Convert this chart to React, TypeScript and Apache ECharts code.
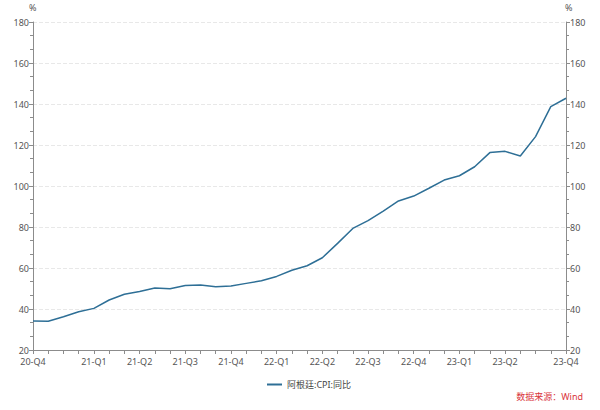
import React, { useEffect, useRef } from "react";
import * as echarts from "echarts";

const months: string[] = [
  "2020-11", "2020-12", "2021-01", "2021-02", "2021-03", "2021-04", "2021-05", "2021-06",
  "2021-07", "2021-08", "2021-09", "2021-10", "2021-11", "2021-12", "2022-01", "2022-02",
  "2022-03", "2022-04", "2022-05", "2022-06", "2022-07", "2022-08", "2022-09", "2022-10",
  "2022-11", "2022-12", "2023-01", "2023-02", "2023-03", "2023-04", "2023-05", "2023-06",
  "2023-07", "2023-08", "2023-09", "2023-10",
];

const xTickLabels: string[] = [
  "20-Q4", "", "", "", "21-Q1", "", "", "21-Q2", "", "", "21-Q3", "", "", "21-Q4", "", "",
  "22-Q1", "", "", "22-Q2", "", "", "22-Q3", "", "", "22-Q4", "", "", "23-Q1", "", "",
  "23-Q2", "", "", "", "23-Q4",
];

const cpiYoY: number[] = [
  34.1, 34.0, 36.2, 38.7, 40.3, 44.4, 47.2, 48.5, 50.2, 49.9, 51.5, 51.7,
  50.9, 51.2, 52.5, 53.8, 55.9, 58.9, 61.1, 65.0, 72.0, 79.3, 83.1, 87.8,
  92.7, 95.1, 98.9, 102.9, 105.0, 109.4, 116.3, 116.9, 114.6, 124.1, 138.7, 142.8,
];

const seriesName = "阿根廷:CPI:同比";
const sourceText = "数据来源：Wind";

const FONT = "'Noto Sans', 'Noto Sans CJK SC', sans-serif";

export default function App() {
  const ref = useRef<HTMLDivElement>(null);
  useEffect(() => {
    if (!ref.current) return;
    const chart = echarts.init(ref.current, undefined, { renderer: "svg" });
    const yAxisCommon = {
      type: "value" as const,
      min: 20,
      max: 180,
      interval: 20,
      axisLine: { show: true, lineStyle: { color: "#8c8c8c" } },
      axisTick: { show: true, length: 4, lineStyle: { color: "#8c8c8c" } },
      minorTick: { show: true, splitNumber: 3, length: 3, lineStyle: { color: "#8c8c8c" } },
      axisLabel: { color: "#555", fontSize: 9, fontFamily: FONT, margin: 4 },
    };
    chart.setOption({
      animation: false,
      backgroundColor: "#fff",
      textStyle: { fontFamily: FONT },
      grid: { left: 33, right: 34, top: 22, bottom: 60, containLabel: false },
      xAxis: {
        type: "category",
        data: months,
        boundaryGap: false,
        axisLine: { lineStyle: { color: "#8c8c8c" } },
        axisTick: { show: true, interval: 0, length: 4, lineStyle: { color: "#8c8c8c" } },
        axisLabel: {
          interval: 0,
          color: "#555",
          fontSize: 9,
          fontFamily: FONT,
          margin: 7,
          formatter: (_v: string, i: number) => xTickLabels[i],
        },
        splitLine: { show: false },
      },
      yAxis: [
        {
          ...yAxisCommon,
          position: "left",
          splitLine: { show: true, lineStyle: { color: "#e8e8e8", type: "dashed" } },
        },
        {
          ...yAxisCommon,
          position: "right",
          splitLine: { show: false },
        },
      ],
      legend: {
        data: [seriesName],
        left: 262,
        top: 375,
        itemWidth: 15,
        itemHeight: 2,
        itemGap: 6,
        icon: "rect",
        textStyle: { color: "#444", fontSize: 9, fontFamily: FONT },
      },
      graphic: [
        { type: "text", left: 29, top: 3, style: { text: "%", fill: "#555", fontSize: 9, fontFamily: FONT } },
        { type: "text", left: 565, top: 3, style: { text: "%", fill: "#555", fontSize: 9, fontFamily: FONT } },
        {
          type: "text",
          right: 17,
          top: 392,
          style: { text: sourceText, fill: "#d9343c", fontSize: 9, fontFamily: FONT },
        },
      ],
      series: [
        {
          name: seriesName,
          type: "line",
          data: cpiYoY,
          yAxisIndex: 0,
          showSymbol: false,
          symbol: "none",
          lineStyle: { color: "#2e6f96", width: 1.5 },
          itemStyle: { color: "#2e6f96" },
        },
      ],
    });
    return () => chart.dispose();
  }, []);
  return (
    <div
      ref={ref}
      style={{ position: "fixed", left: 0, top: 0, width: 600, height: 410, background: "#fff" }}
    />
  );
}
